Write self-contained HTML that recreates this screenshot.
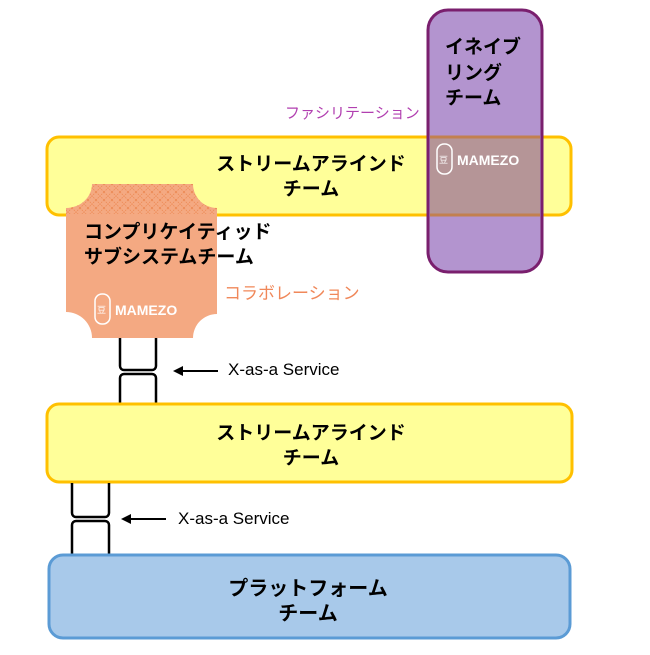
<!DOCTYPE html>
<html><head><meta charset="utf-8"><style>
body{margin:0;background:#fff;width:650px;height:650px;overflow:hidden}
svg text{font-family:"Liberation Sans","Noto Sans CJK JP",sans-serif}
</style></head><body>
<svg width="650" height="650" viewBox="0 0 650 650" xmlns="http://www.w3.org/2000/svg">
<defs>
<pattern id="hx" width="8" height="8" patternUnits="userSpaceOnUse">
<path d="M0 0L8 8M8 0L0 8" stroke="#ec8a55" stroke-width="0.8" fill="none" stroke-dasharray="1.5 1"/>
</pattern>
</defs>
<!-- top yellow -->
<rect x="47" y="137" width="524" height="78" rx="12" fill="#ffff99" stroke="#ffc000" stroke-width="3"/>
<text x="311" y="170" font-size="19" font-weight="bold" text-anchor="middle">ストリームアラインド</text>
<text x="311" y="195" font-size="19" font-weight="bold" text-anchor="middle">チーム</text>
<!-- purple -->
<rect x="428" y="10" width="114" height="262" rx="20" fill="#b394cf" stroke="#7a1f6e" stroke-width="3"/>
<rect x="430" y="138" width="110" height="76" fill="#b59597"/>
<line x1="430" y1="137" x2="540" y2="137" stroke="#c2804f" stroke-width="3"/>
<line x1="430" y1="215" x2="540" y2="215" stroke="#c2804f" stroke-width="3"/>
<text x="445" y="53" font-size="19" font-weight="bold">イネイブ</text>
<text x="445" y="79" font-size="19" font-weight="bold">リング</text>
<text x="445" y="104" font-size="19" font-weight="bold">チーム</text>
<rect x="437" y="144" width="15" height="30" rx="7" fill="none" stroke="#fff" stroke-width="1.5"/>
<text x="439" y="163" font-size="9" fill="#fff">豆</text>
<text x="457" y="165" font-size="14" font-weight="bold" fill="#fff">MAMEZO</text>
<text x="285" y="118" font-size="15" fill="#b13fb0">ファシリテーション</text>
<!-- orange -->
<path d="M92 184 H193 A24 24 0 0 0 217 208 V314 A24 24 0 0 0 193 338 H92 A26 26 0 0 0 66 312 V208 A26 24 0 0 0 92 184 Z" fill="#f4a982"/>
<path d="M92 184 H193 A24 24 0 0 0 217 208 V214 H66 V208 A26 24 0 0 0 92 184 Z" fill="url(#hx)"/>
<text x="84" y="238" font-size="19" font-weight="bold">コンプリケイティッド</text>
<text x="84" y="263" font-size="19" font-weight="bold">サブシステムチーム</text>
<rect x="95" y="294" width="15" height="30" rx="7" fill="none" stroke="#fff" stroke-width="1.5"/>
<text x="97" y="313" font-size="9" fill="#fff">豆</text>
<text x="115" y="315" font-size="14" font-weight="bold" fill="#fff">MAMEZO</text>
<text x="224" y="299" font-size="17" fill="#f0885a">コラボレーション</text>
<!-- connectors 1 -->
<path d="M120 338 V366 a4 4 0 0 0 4 4 H152 a4 4 0 0 0 4 -4 V338" fill="none" stroke="#000" stroke-width="2.5"/>
<path d="M120 404 V378 a4 4 0 0 1 4 -4 H152 a4 4 0 0 1 4 4 V404" fill="none" stroke="#000" stroke-width="2.5"/>
<line x1="182" y1="371" x2="218" y2="371" stroke="#000" stroke-width="2"/>
<path d="M173 371 L183 366 L183 376 Z" fill="#000"/>
<text x="228" y="375" font-size="17">X-as-a Service</text>
<!-- yellow 2 -->
<rect x="47" y="404" width="525" height="78" rx="12" fill="#ffff99" stroke="#ffc000" stroke-width="3"/>
<text x="311" y="439" font-size="19" font-weight="bold" text-anchor="middle">ストリームアラインド</text>
<text x="311" y="464" font-size="19" font-weight="bold" text-anchor="middle">チーム</text>
<!-- connectors 2 -->
<path d="M72 483 V513 a4 4 0 0 0 4 4 H105 a4 4 0 0 0 4 -4 V483" fill="none" stroke="#000" stroke-width="2.5"/>
<path d="M72 554 V525 a4 4 0 0 1 4 -4 H105 a4 4 0 0 1 4 4 V554" fill="none" stroke="#000" stroke-width="2.5"/>
<line x1="130" y1="519" x2="166" y2="519" stroke="#000" stroke-width="2"/>
<path d="M121 519 L131 514 L131 524 Z" fill="#000"/>
<text x="178" y="524" font-size="17">X-as-a Service</text>
<!-- platform -->
<rect x="49" y="555" width="521" height="83" rx="14" fill="#a8c9ea" stroke="#5b9bd5" stroke-width="3"/>
<text x="308" y="595" font-size="20" font-weight="bold" text-anchor="middle">プラットフォーム</text>
<text x="308" y="620" font-size="20" font-weight="bold" text-anchor="middle">チーム</text>
</svg>
</body></html>
